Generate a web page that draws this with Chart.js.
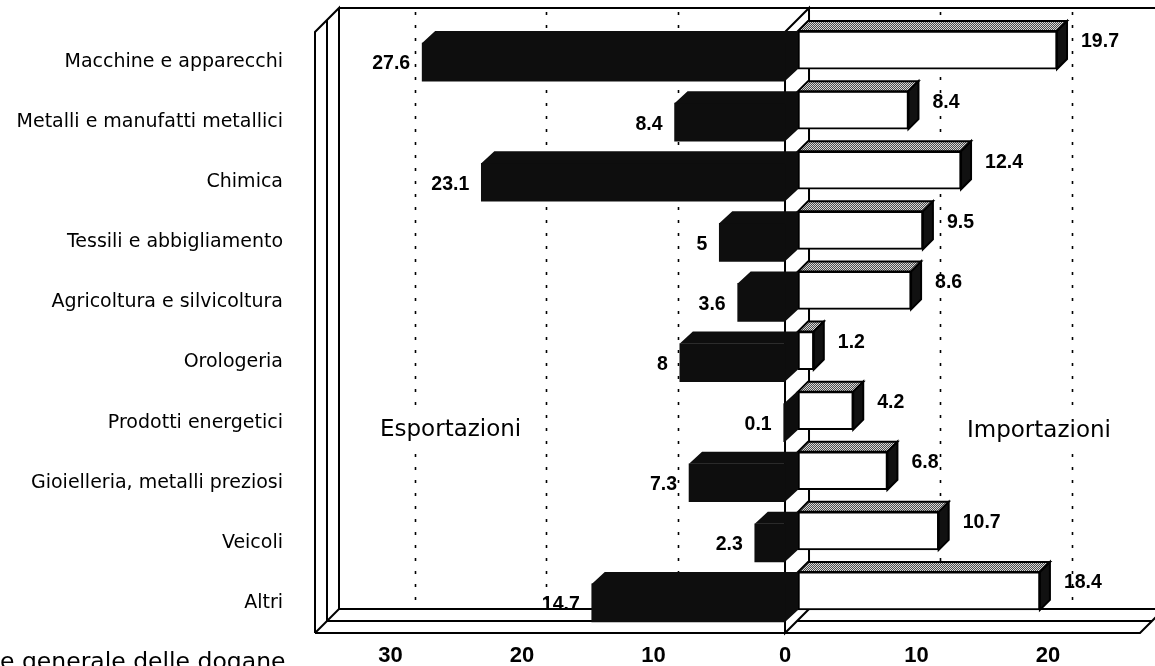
<!DOCTYPE html>
<html>
<head>
<meta charset="utf-8">
<script src="https://cdn.jsdelivr.net/npm/chart.js@4.4.1/dist/chart.umd.min.js"></script>
<style>
  html, body { margin: 0; padding: 0; background: #fff; }
  #wrap { width: 1155px; height: 666px; position: relative; }
</style>
</head>
<body>
<div id="wrap"><canvas id="c" width="1155" height="666"></canvas></div>
<script>
// Commercio estero per settore (quote percentuali)
const categories = [
  'Macchine e apparecchi',
  'Metalli e manufatti metallici',
  'Chimica',
  'Tessili e abbigliamento',
  'Agricoltura e silvicoltura',
  'Orologeria',
  'Prodotti energetici',
  'Gioielleria, metalli preziosi',
  'Veicoli',
  'Altri'
];
const esportazioni = [27.6, 8.4, 23.1, 5, 3.6, 8, 0.1, 7.3, 2.3, 14.7];
const importazioni = [19.7, 8.4, 12.4, 9.5, 8.6, 1.2, 4.2, 6.8, 10.7, 18.4];
const tickValues = [-30, -20, -10, 0, 10, 20];
const sideTitles = ['Esportazioni', 'Importazioni'];
const sourceNote = 'e generale delle dogane';

// 3D look: depth of the whole box, offset of the import layer, thickness of the boxes
const DEPTH = 24;
const LAYER = { dx: 13, dy: -12 };
const EXP_D = { dx: 13, dy: -12 };
const IMP_D = { dx: 10, dy: -10 };
const EXPORT_COLOR = '#0e0e0e';
const VALUE_FONT = 'bold 19.5px "Liberation Sans", Arial, sans-serif';

function line(ctx, pts) {
  ctx.beginPath();
  ctx.moveTo(pts[0][0], pts[0][1]);
  for (let i = 1; i < pts.length; i++) ctx.lineTo(pts[i][0], pts[i][1]);
  ctx.stroke();
}

function hatchPattern(ctx) {
  const c = document.createElement('canvas');
  c.width = 4; c.height = 4;
  const g = c.getContext('2d');
  g.fillStyle = '#d8d8d8';
  g.fillRect(0, 0, 4, 4);
  g.fillStyle = '#4a4a4a';
  for (let yy = 0; yy < 4; yy++)
    for (let xx = 0; xx < 4; xx++)
      if ((xx + yy) % 2 === 0) g.fillRect(xx, yy, 1, 1);
  return ctx.createPattern(c, 'repeat');
}

// Box frame: left side wall, back wall, floor, central divider, dotted grid
const frame3d = {
  id: 'frame3d',
  beforeDatasetsDraw(chart) {
    const { ctx, chartArea: a, scales: { x } } = chart;
    const L = a.left, R = a.right, T = a.top, B = a.bottom, D = DEPTH, H = DEPTH / 2;
    const x0 = x.getPixelForValue(0);
    ctx.save();
    // dotted grid on the back wall
    ctx.save();
    ctx.strokeStyle = '#000';
    ctx.lineWidth = 1.6;
    ctx.setLineDash([3, 10]);
    x.ticks.forEach(t => {
      if (t.value === 0) return;
      const px = Math.round(x.getPixelForValue(t.value) + D) + 0.5;
      line(ctx, [[px, T - D + 4], [px, B - D]]);
    });
    ctx.restore();

    ctx.strokeStyle = '#000';
    ctx.lineWidth = 2;
    ctx.lineJoin = 'miter';
    // back wall top edge
    line(ctx, [[L + D, T - D], [R + D + 30, T - D]]);
    // left side wall
    line(ctx, [[L, B], [L, T], [L + D, T - D], [L + D, B - D]]);
    line(ctx, [[L + H, T - H], [L + H, B - H]]);
    // floor
    line(ctx, [[L, B], [R, B], [R + D, B - D]]);
    line(ctx, [[L + H, B - H], [R + H, B - H]]);
    line(ctx, [[L + D, B - D], [R + D + 30, B - D]]);
    line(ctx, [[L, B], [L + D, B - D]]);
    // central divider
    ctx.beginPath();
    ctx.moveTo(x0, T);
    ctx.lineTo(x0 + D, T - D);
    ctx.lineTo(x0 + D, B - D);
    ctx.lineTo(x0, B);
    ctx.closePath();
    ctx.fillStyle = '#fff';
    ctx.fill();
    ctx.stroke();
    ctx.restore();
  }
};

// Top and side faces of the bars; the import layer sits further back
const bars3d = {
  id: 'bars3d',
  beforeDatasetDraw(chart, args) {
    if (args.index === 1) {
      chart.ctx.save();
      chart.ctx.translate(LAYER.dx, LAYER.dy);
    }
  },
  afterDatasetDraw(chart, args) {
    const ctx = chart.ctx;
    const hatch = hatchPattern(ctx);
    args.meta.data.forEach(el => {
      const { x, y, base, height } = el.getProps(['x', 'y', 'base', 'height'], true);
      const L = Math.min(x, base), R = Math.max(x, base);
      const T = y - height / 2, Bt = y + height / 2;
      ctx.save();
      if (args.index === 0) {
        const d = EXP_D;
        ctx.fillStyle = EXPORT_COLOR;
        ctx.beginPath();
        ctx.moveTo(L, T);
        ctx.lineTo(L + d.dx, T + d.dy);
        ctx.lineTo(R + d.dx, T + d.dy);
        ctx.lineTo(R + d.dx, Bt + d.dy);
        ctx.lineTo(R, Bt);
        ctx.lineTo(R, T);
        ctx.closePath();
        ctx.fill();
      } else {
        const d = IMP_D;
        ctx.strokeStyle = '#000';
        ctx.lineWidth = 2;
        ctx.lineJoin = 'miter';
        // top face
        ctx.beginPath();
        ctx.moveTo(L, T);
        ctx.lineTo(L + d.dx, T + d.dy);
        ctx.lineTo(R + d.dx, T + d.dy);
        ctx.lineTo(R, T);
        ctx.closePath();
        ctx.fillStyle = hatch;
        ctx.fill();
        ctx.stroke();
        // right face
        ctx.beginPath();
        ctx.moveTo(R, T);
        ctx.lineTo(R + d.dx, T + d.dy);
        ctx.lineTo(R + d.dx, Bt + d.dy);
        ctx.lineTo(R, Bt);
        ctx.closePath();
        ctx.fillStyle = '#111';
        ctx.fill();
        ctx.stroke();
      }
      ctx.restore();
    });
    if (args.index === 1) chart.ctx.restore();
  },
  afterDatasetsDraw(chart) {
    const ctx = chart.ctx;
    ctx.save();
    ctx.font = VALUE_FONT;
    ctx.fillStyle = '#000';
    ctx.textBaseline = 'middle';
    chart.getDatasetMeta(0).data.forEach((el, i) => {
      ctx.textAlign = 'right';
      ctx.fillText(String(esportazioni[i]), el.x - 12, el.y + 2);
    });
    chart.getDatasetMeta(1).data.forEach((el, i) => {
      ctx.textAlign = 'left';
      ctx.fillText(String(importazioni[i]), el.x + LAYER.dx + 24, el.y - 20);
    });
    ctx.restore();
  },
  afterDraw(chart) {
    const ctx = chart.ctx;
    ctx.save();
    ctx.font = '23px "DejaVu Sans", sans-serif';
    ctx.textBaseline = 'alphabetic';
    ctx.textAlign = 'left';
    const titles = [[sideTitles[0], 380, 436], [sideTitles[1], 967, 437]];
    titles.forEach(([t, tx, ty]) => {
      const w = ctx.measureText(t).width;
      ctx.fillStyle = '#fff';
      ctx.fillRect(tx - 6, ty - 24, w + 12, 34);
      ctx.fillStyle = '#000';
      ctx.fillText(t, tx, ty);
    });
    ctx.font = '23.5px "DejaVu Sans", sans-serif';
    ctx.fillText(sourceNote, 0, 669);
    ctx.restore();
  }
};

new Chart(document.getElementById('c'), {
  type: 'bar',
  data: {
    labels: categories,
    datasets: [
      {
        label: sideTitles[0],
        data: esportazioni.map(v => -v),
        backgroundColor: EXPORT_COLOR,
        borderWidth: 0,
        barThickness: 38,
        clip: false
      },
      {
        label: sideTitles[1],
        data: importazioni,
        backgroundColor: '#ffffff',
        borderColor: '#000000',
        borderWidth: 2,
        borderSkipped: false,
        barThickness: 38,
        clip: false
      }
    ]
  },
  options: {
    indexAxis: 'y',
    responsive: false,
    animation: false,
    devicePixelRatio: 1,
    layout: { padding: { top: 32, right: 15, left: 0, bottom: 0 } },
    plugins: { legend: { display: false }, tooltip: { enabled: false } },
    scales: {
      x: {
        type: 'linear',
        min: -35.75,
        max: 27,
        stacked: true,
        grid: { display: false, drawTicks: false },
        border: { display: false },
        afterBuildTicks: s => { s.ticks = tickValues.map(v => ({ value: v })); },
        afterFit: s => { s.height = 33; s.paddingLeft = 0; s.paddingRight = 0; },
        ticks: {
          padding: 10,
          autoSkip: false,
          maxRotation: 0,
          color: '#000',
          font: { family: '"Liberation Sans", Arial, sans-serif', weight: 'bold', size: 22 },
          callback: v => String(Math.abs(v))
        }
      },
      y: {
        type: 'category',
        stacked: true,
        grid: { display: false, drawTicks: false },
        border: { display: false },
        afterFit: s => { s.width = 315; s.paddingTop = 0; s.paddingBottom = 0; },
        ticks: {
          padding: 32,
          autoSkip: false,
          color: '#000',
          font: { family: '"DejaVu Sans", sans-serif', size: 19 }
        }
      }
    }
  },
  plugins: [frame3d, bars3d]
});
</script>
</body>
</html>
